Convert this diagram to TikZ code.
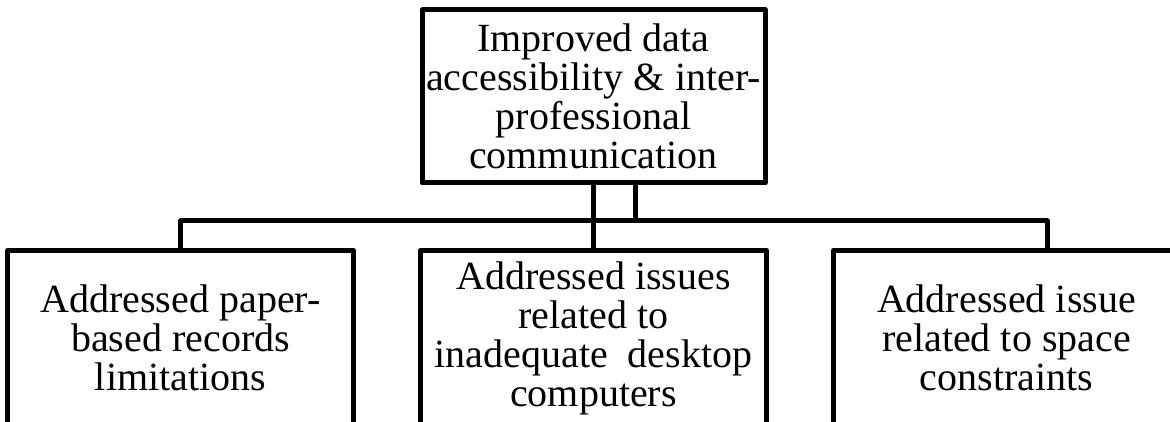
\documentclass[tikz,border=0pt]{standalone}
\usepackage{fontspec}
\setmainfont{Liberation Serif}
\begin{document}
\begin{tikzpicture}[x=1pt,y=1pt,
  box/.style={draw=black, line width=5pt, line join=round, fill=white,
    inner sep=0pt, align=center, minimum width=341pt, minimum height=170pt,
    font=\fontsize{40}{39}\selectfont},
  openbox/.style={box, draw=none},
  link/.style={draw=black, line width=5pt, line join=round}]
\useasboundingbox (0,0) rectangle (1170,422);
\clip (0,0) rectangle (1170,422);

% goal box
\node[box, minimum width=343pt, minimum height=173pt] (top) at (593.5,325.5)
  {Improved data\\accessibility \& inter-\\professional\\communication};

% outcome boxes: text set here, outlines drawn below without a bottom edge
\node[openbox] (b1) at (180.5,84) {Addressed paper-\\based records\\limitations};
\node[openbox] (b2) at (593.5,84) {Addressed issues\\related to\\inadequate\ \ desktop\\computers};
\node[openbox] (b3) at (1006.5,84) {Addressed issue\\related to space\\constraints};

\foreach \b in {b1,b2,b3}
  \draw[link] ([yshift=-40pt]\b.south west) |- (\b.north east) -- ([yshift=-40pt]\b.south east);

% bus level and the off-centre taps
\coordinate (bus) at (0,201);
\coordinate (tapT) at (635,0);
\coordinate (tapR) at (1047,0);

\draw[link] (top.south) -- (b2.north);
\draw[link] (top.south -| tapT) -- (tapT |- bus);
\draw[link] (b1.north) -- (b1.north |- bus) -- (bus -| tapR) -- (tapR |- b3.north);
\end{tikzpicture}
\end{document}
